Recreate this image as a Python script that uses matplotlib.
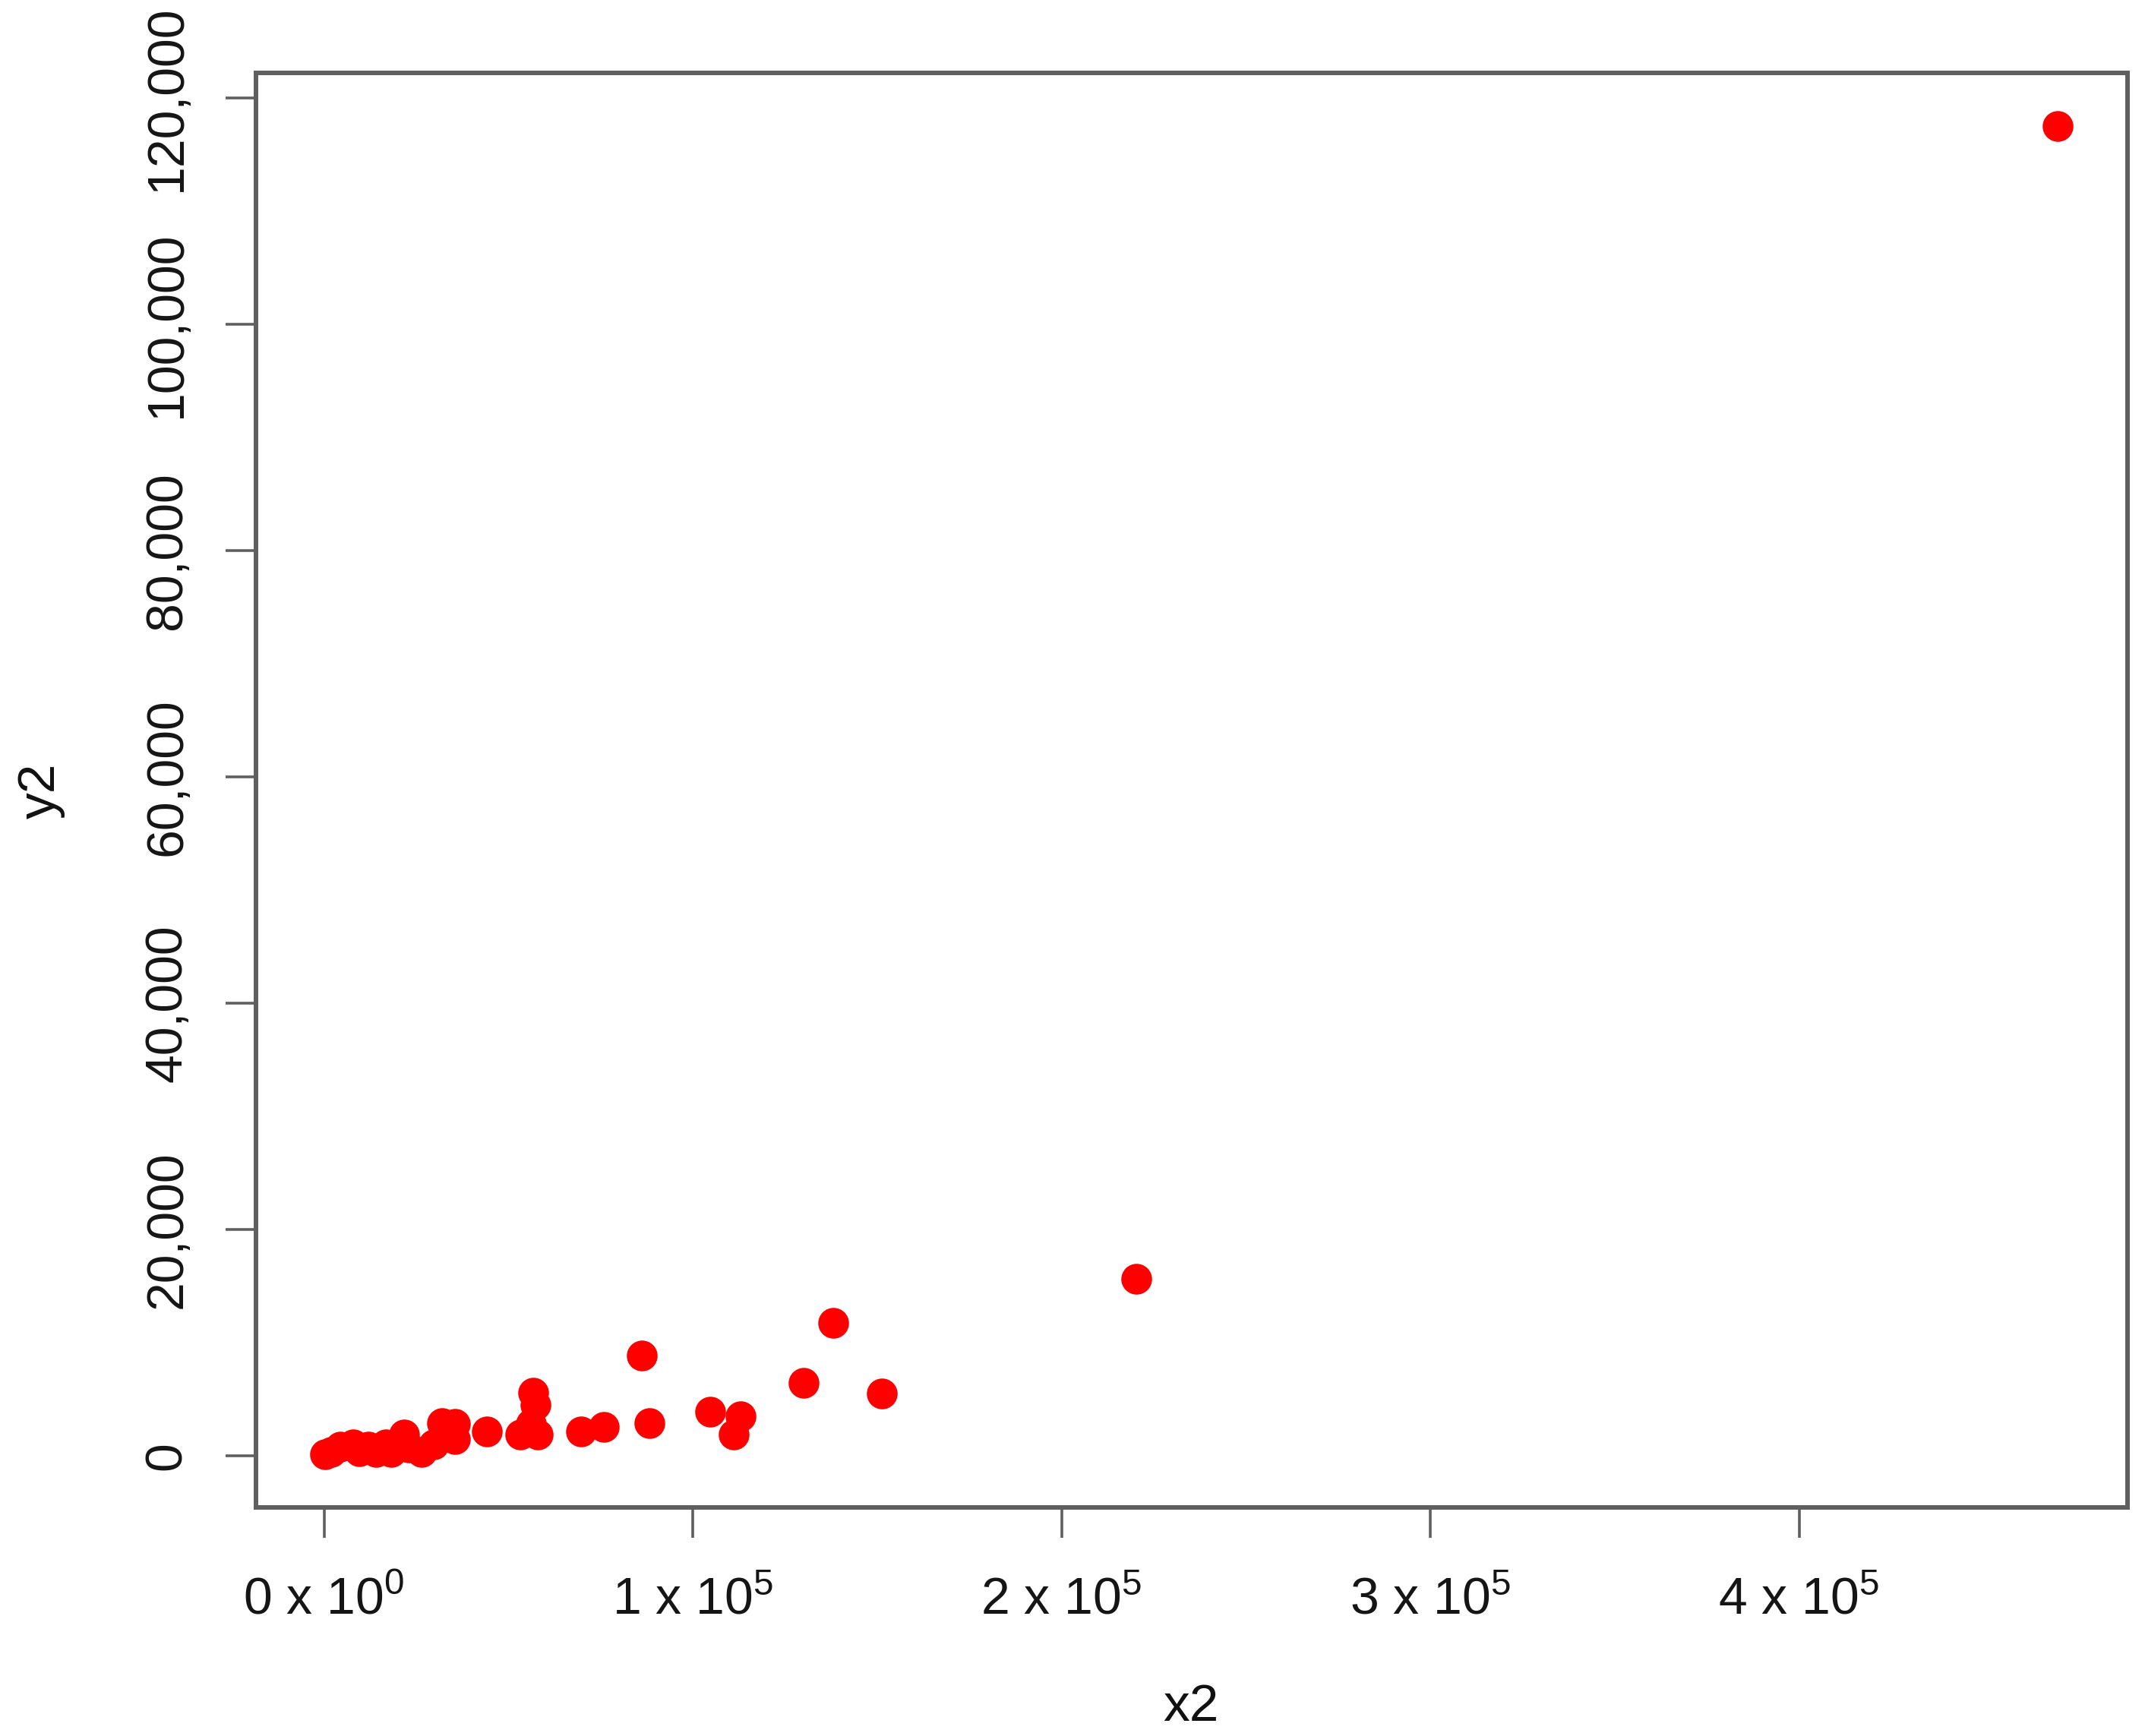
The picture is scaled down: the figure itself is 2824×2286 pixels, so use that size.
import numpy as np
import matplotlib
matplotlib.use("Agg")
import matplotlib.pyplot as plt
from matplotlib.ticker import FixedLocator

# values
x2 = [300, 2000, 4400, 7850, 9500, 12000, 14000, 16800, 18200, 21600,
      23000, 26400, 29800, 31900, 35400, 35400, 44200, 53300, 56000, 56700,
      57400, 58000, 69700, 75900, 86250, 88300, 104800, 111000, 113000,
      130000, 138160, 151200, 220240, 470200]
y2 = [100, 300, 780, 980, 400, 780, 300, 980, 300, 1850,
      700, 300, 980, 2870, 2800, 1440, 2120, 1850, 2800, 5550,
      4500, 1870, 2100, 2540, 8830, 2880, 3890, 1870, 3460,
      6420, 11760, 5450, 15640, 117580]

x_ticks = [0, 100000, 200000, 300000, 400000]
x_tick_labels = ["0 x 10$^{0}$", "1 x 10$^{5}$", "2 x 10$^{5}$",
                 "3 x 10$^{5}$", "4 x 10$^{5}$"]
y_ticks = [0, 20000, 40000, 60000, 80000, 100000, 120000]
y_tick_labels = ["0", "20,000", "40,000", "60,000", "80,000", "100,000", "120,000"]

plt.rcParams["font.family"] = ["Liberation Sans", "DejaVu Sans"]
plt.rcParams["mathtext.fontset"] = "custom"
plt.rcParams["mathtext.rm"] = "Liberation Sans"

AXIS_GREY = "#5f5f5f"

fig = plt.figure(figsize=(28.24, 22.86), dpi=100)
ax = fig.add_axes([0.1193, 0.1316, 0.9917 - 0.1193, 0.9582 - 0.1316])

ax.scatter(x2, y2, s=850, color="#ff0000", linewidths=0, zorder=3)

# R-style 4% padding on each side
def r_lim(v):
    lo, hi = min(v), max(v)
    pad = 0.04 * (hi - lo)
    return lo - pad, hi + pad

ax.set_xlim(*r_lim(x2))
ax.set_ylim(*r_lim(y2))

ax.xaxis.set_major_locator(FixedLocator(x_ticks))
ax.set_xticklabels(x_tick_labels)
ax.yaxis.set_major_locator(FixedLocator(y_ticks))
ax.set_yticklabels(y_tick_labels, rotation=90, va="center")

ax.tick_params(axis="both", length=29, width=2.6, color=AXIS_GREY,
               labelsize=49, labelcolor="#151515")
ax.tick_params(axis="x", pad=36)
ax.tick_params(axis="y", pad=32)

for sp in ax.spines.values():
    sp.set_color(AXIS_GREY)
    sp.set_linewidth(4.3)

ax.set_xlabel("x2", fontsize=50, color="#111111")
ax.set_ylabel("y2", fontsize=50, color="#111111")
ax.xaxis.label.set_va("center")
ax.yaxis.label.set_va("center")
ax.xaxis.set_label_coords(0.4998, -0.139)
ax.yaxis.set_label_coords(-0.115, 0.4995)

fig.savefig("out.png", dpi=100, facecolor="white")
